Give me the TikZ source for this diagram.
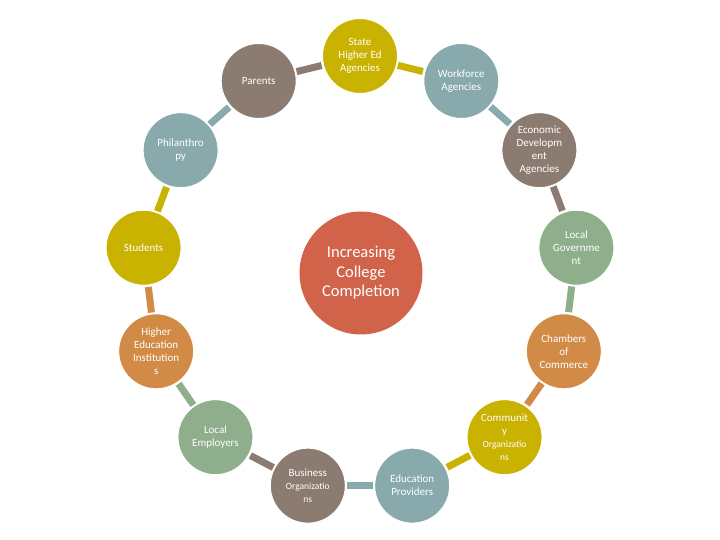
\documentclass[tikz,border=0pt]{standalone}
\usepackage{fontspec}
\setmainfont{Carlito}
\usepackage{tikz}
\definecolor{ringyel}{HTML}{C9B200}
\definecolor{ringteal}{HTML}{88AAAD}
\definecolor{ringbrown}{HTML}{8C7B70}
\definecolor{ringgreen}{HTML}{8FAE8B}
\definecolor{ringorange}{HTML}{D18B47}
\definecolor{hubred}{HTML}{D1634A}
\newcommand{\orgsz}{\fontsize{9.5}{11.5}\selectfont}

\begin{document}
\begin{tikzpicture}[x=1pt, y=1pt,
    spoke/.style={circle, fill=#1, draw=white, line width=1pt,
        minimum size=75pt, inner sep=0pt, align=center, text=white,
        font=\fontsize{11}{13}\selectfont},
    hub/.style={circle, fill=hubred, minimum size=123pt, inner sep=0pt,
        align=center, text=white, font=\fontsize{16.5}{19.5}\selectfont},
    link/.style={line width=7pt, #1, shorten <=1pt, shorten >=1.5pt}]
    % --- page frame ---
    \useasboundingbox (-360,-266) rectangle (360,274);
    % --- ring of partners, clockwise from the top ---
    \node[spoke=ringyel]    (state)     at (90:218)     {State\\Higher Ed\\Agencies};
    \node[spoke=ringteal]   (workforce) at (62.31:218)  {Workforce\\Agencies};
    \node[spoke=ringbrown]  (econ)      at (34.62:218)  {Economic\\Developm\\ent\\Agencies};
    \node[spoke=ringgreen]  (localgov)  at (6.92:218)   {Local\\Governme\\nt};
    \node[spoke=ringorange] (chambers)  at (-20.77:218) {Chambers\\of\\Commerce};
    \node[spoke=ringyel]    (community) at (-48.46:218) {Communit\\y\\{\orgsz Organizatio}\\{\orgsz ns}};
    \node[spoke=ringteal]   (eduprov)   at (-76.15:218) {Education\\Providers};
    \node[spoke=ringbrown]  (business)  at (-103.85:218) {Business\\{\orgsz Organizatio}\\{\orgsz ns}};
    \node[spoke=ringgreen]  (employers) at (-131.54:218) {Local\\Employers};
    \node[spoke=ringorange] (highered)  at (-159.23:218) {Higher\\Education\\Institution\\s};
    \node[spoke=ringyel]    (students)  at (173.08:218) {Students};
    \node[spoke=ringteal]   (philan)    at (145.38:218) {Philanthro\\py};
    \node[spoke=ringbrown]  (parents)   at (117.69:218) {Parents};
    % --- hub ---
    \node[hub] (goal) at (1,1) {Increasing\\College\\Completion};
    % --- short bars between neighbours ---
    \draw[link=ringyel]    (state)     -- (workforce);
    \draw[link=ringteal]   (workforce) -- (econ);
    \draw[link=ringbrown]  (econ)      -- (localgov);
    \draw[link=ringgreen]  (localgov)  -- (chambers);
    \draw[link=ringorange] (chambers)  -- (community);
    \draw[link=ringyel]    (community) -- (eduprov);
    \draw[link=ringteal]   (eduprov)   -- (business);
    \draw[link=ringbrown]  (business)  -- (employers);
    \draw[link=ringgreen]  (employers) -- (highered);
    \draw[link=ringorange] (highered)  -- (students);
    \draw[link=ringyel]    (students)  -- (philan);
    \draw[link=ringteal]   (philan)    -- (parents);
    \draw[link=ringbrown]  (parents)   -- (state);
\end{tikzpicture}
\end{document}
